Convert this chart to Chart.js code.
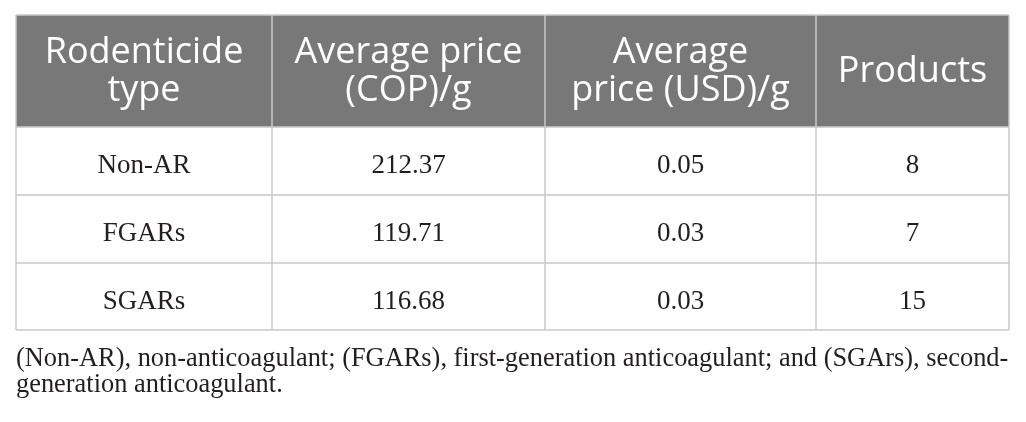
<!DOCTYPE html>
<html>
<head>
<meta charset="utf-8">
<script src="https://cdn.jsdelivr.net/npm/chart.js@4.4.1/dist/chart.umd.min.js"></script>
<style>
  html, body { margin: 0; padding: 0; background: #fff; }
  #wrap { position: relative; width: 1026px; height: 422px; }
  #caption {
    position: absolute; left: 16px; top: 344px; width: 1010px; white-space: nowrap;
    font-family: "Liberation Serif", serif; font-size: 26.4px; line-height: 26px; color: #231f20;
  }
</style>
</head>
<body>
<div id="wrap">
  <canvas id="tbl" width="1026" height="422"></canvas>
  <div id="caption">(Non-AR), non-anticoagulant; (FGARs), first-generation anticoagulant; and (SGArs), second-<br>generation anticoagulant.</div>
</div>
<script>
// table content
const headers = [['Rodenticide', 'type'], ['Average price', '(COP)/g'], ['Average', 'price (USD)/g'], ['Products']];
const types = ['Non-AR', 'FGARs', 'SGARs'];
const priceCOP = ['212.37', '119.71', '116.68'];
const priceUSD = ['0.05', '0.03', '0.03'];
const products = [8, 7, 15];

// cell edges in scale units (layout)
const colEdges = [0, 256, 529, 800, 993];
const rowEdges = [0, 112, 180, 248, 315];

const columns = [types, priceCOP, priceUSD, products];

const tablePlugin = {
  id: 'tablePlugin',
  afterDraw(chart) {
    const ctx = chart.ctx;
    const xs = chart.scales.x;
    const ys = chart.scales.y;
    const px = v => xs.getPixelForValue(v);
    const py = v => ys.getPixelForValue(v);

    ctx.save();
    // header background
    ctx.fillStyle = '#787878';
    ctx.fillRect(px(colEdges[0]), py(rowEdges[0]), px(colEdges[4]) - px(colEdges[0]), py(rowEdges[1]) - py(rowEdges[0]));

    // header text
    ctx.fillStyle = '#ffffff';
    ctx.font = '36px "Open Sans"';
    ctx.textAlign = 'center';
    ctx.textBaseline = 'alphabetic';
    headers.forEach((lines, c) => {
      const cx = (px(colEdges[c]) + px(colEdges[c + 1])) / 2;
      const mid = (py(rowEdges[0]) + py(rowEdges[1])) / 2;
      const lh = 38.5;
      const first = mid - (lines.length - 1) * lh / 2 + 11;
      lines.forEach((t, i) => ctx.fillText(t, cx, first + i * lh));
    });

    // body text
    ctx.fillStyle = '#231f20';
    ctx.font = '27px "Liberation Serif"';
    columns.forEach((col, c) => {
      const cx = (px(colEdges[c]) + px(colEdges[c + 1])) / 2;
      col.forEach((v, r) => {
        const mid = (py(rowEdges[r + 1]) + py(rowEdges[r + 2])) / 2;
        ctx.fillText(String(v), cx, mid + 12);
      });
    });

    // grid lines
    ctx.strokeStyle = '#c8c8c8';
    ctx.lineWidth = 1.5;
    rowEdges.forEach(r => {
      ctx.beginPath();
      ctx.moveTo(px(colEdges[0]), py(r));
      ctx.lineTo(px(colEdges[4]), py(r));
      ctx.stroke();
    });
    colEdges.forEach(c => {
      ctx.beginPath();
      ctx.moveTo(px(c), py(rowEdges[0]));
      ctx.lineTo(px(c), py(rowEdges[4]));
      ctx.stroke();
    });
    ctx.restore();
  }
};

const chart = new Chart(document.getElementById('tbl').getContext('2d'), {
  type: 'scatter',
  data: { datasets: [{ data: [] }] },
  options: {
    responsive: false,
    animation: false,
    layout: { padding: { left: 16, top: 15, right: 17, bottom: 92 } },
    scales: {
      x: { type: 'linear', min: colEdges[0], max: colEdges[4], display: false },
      y: { type: 'linear', min: rowEdges[0], max: rowEdges[4], reverse: true, display: false }
    },
    plugins: { legend: { display: false }, tooltip: { enabled: false } }
  },
  plugins: [tablePlugin]
});
</script>
</body>
</html>
